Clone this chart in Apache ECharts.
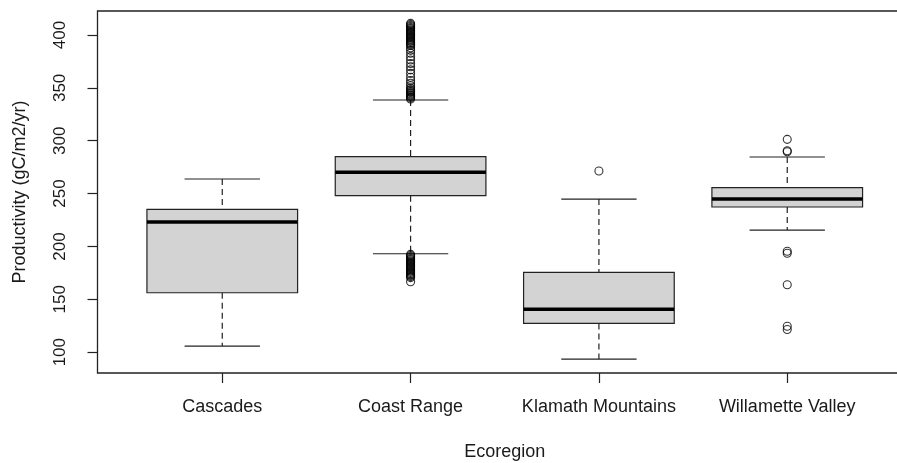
<!DOCTYPE html>
<html>
<head>
<meta charset="utf-8">
<script src="https://cdn.jsdelivr.net/npm/echarts@6/dist/echarts.min.js"></script>
<style>
html,body{margin:0;padding:0;background:#fff;}
#c{width:897px;height:463px;}
</style>
</head>
<body>
<div id="c"></div>
<script>
// ---- data ----
const categories = ['Cascades', 'Coast Range', 'Klamath Mountains', 'Willamette Valley'];
// [lower whisker, Q1, median, Q3, upper whisker]
const boxStats = [
  [105.8, 156.2, 223.1, 235.1, 263.8],
  [193.1, 248.0, 270.1, 284.9, 338.5],
  [93.5, 127.2, 140.5, 175.5, 244.8],
  [215.5, 237.3, 244.8, 255.6, 284.6]
];
const outliersCascades = [];
const outliersCoast = [
  339.5, 340.5, 341.5, 342.5, 343.5, 344.5, 345.5, 346.5, 347.5, 348.5, 350, 352, 354.3, 357, 360, 363.7, 367, 370, 373, 376.3, 379.5, 382.7, 385.5, 388, 390, 391, 392, 393, 394, 395, 396, 397, 398, 399, 400, 401, 402, 403, 404, 405, 406, 407, 408, 409, 410, 411,
  192.5, 191.5, 190.5, 189.5, 188.5, 187.5, 186.5, 185.5, 184.5, 183.5, 182.5, 181.5, 180.5, 179.5, 178.5, 177.5, 176.5, 175.5, 174.5, 173.5, 172.5, 171.5, 170.5, 166.6
];
const outliersKlamath = [271.3];
const outliersWillamette = [301.3, 290.5, 289.5, 195.5, 193.5, 163.8, 124.5, 121.5];
const yTicks = [100, 150, 200, 250, 300, 350, 400];
const yMin = 80.3, yMax = 422.7;

const outlierGroups = [outliersCascades, outliersCoast, outliersKlamath, outliersWillamette];
const outlierData = [];
outlierGroups.forEach((g, i) => g.forEach(v => outlierData.push([i, v])));
const boxData = boxStats.map((s, i) => [i].concat(s));

const chart = echarts.init(document.getElementById('c'), null, {renderer: 'canvas'});
const FONT = 'Liberation Sans, Arial, sans-serif';
const TXT = '#1a1a1a';

function renderBox(params, api) {
  const i = api.value(0);
  const lo = api.coord([i, api.value(1)]);
  const q1 = api.coord([i, api.value(2)]);
  const md = api.coord([i, api.value(3)]);
  const q3 = api.coord([i, api.value(4)]);
  const hi = api.coord([i, api.value(5)]);
  const band = api.size([1, 0])[0];
  const hb = band * 0.4, hc = band * 0.2;
  const x = lo[0];
  const lineStyle = {stroke: '#222', lineWidth: 1.2, fill: null};
  const dash = {stroke: '#222', lineWidth: 1.2, lineDash: [6, 4], fill: null};
  return {
    type: 'group',
    children: [
      {type: 'line', shape: {x1: x, y1: hi[1], x2: x, y2: q3[1]}, style: dash},
      {type: 'line', shape: {x1: x, y1: q1[1], x2: x, y2: lo[1]}, style: dash},
      {type: 'line', shape: {x1: x - hc, y1: hi[1], x2: x + hc, y2: hi[1]}, style: lineStyle},
      {type: 'line', shape: {x1: x - hc, y1: lo[1], x2: x + hc, y2: lo[1]}, style: lineStyle},
      {type: 'rect', shape: {x: x - hb, y: q3[1], width: hb * 2, height: q1[1] - q3[1]},
        style: {fill: '#d3d3d3', stroke: '#222', lineWidth: 1.2}},
      {type: 'line', shape: {x1: x - hb, y1: md[1], x2: x + hb, y2: md[1]},
        style: {stroke: '#000', lineWidth: 3.5}}
    ]
  };
}

chart.setOption({
  backgroundColor: '#fff',
  animation: false,
  grid: {left: 128.1, right: 15.6, top: 11, bottom: 90, containLabel: false, outerBoundsMode: 'none'},
  xAxis: {
    type: 'category',
    data: categories,
    boundaryGap: true,
    name: 'Ecoregion',
    nameLocation: 'middle',
    nameGap: 70,
    nameTextStyle: {fontFamily: FONT, fontSize: 18, color: TXT},
    axisLine: {show: false},
    axisTick: {show: true, alignWithLabel: true, interval: 0, length: 10, lineStyle: {color: '#222', width: 1.2}},
    axisLabel: {fontFamily: FONT, fontSize: 18, color: TXT, margin: 25, interval: 0},
    splitLine: {show: false}
  },
  yAxis: {
    type: 'value',
    min: yMin,
    max: yMax,
    offset: 30.6,
    name: 'Productivity (gC/m2/yr)',
    nameLocation: 'middle',
    nameRotate: 90,
    nameGap: 68,
    nameTextStyle: {fontFamily: FONT, fontSize: 18, color: TXT},
    axisLine: {show: false},
    axisTick: {show: true, length: 10, customValues: yTicks, lineStyle: {color: '#222', width: 1.2}},
    axisLabel: {fontFamily: FONT, fontSize: 17, color: TXT, rotate: 90, margin: 29, customValues: yTicks},
    splitLine: {show: false}
  },
  graphic: [{
    type: 'rect',
    shape: {x: 97.5, y: 11, width: 814, height: 362},
    style: {fill: null, stroke: '#222', lineWidth: 1.3},
    silent: true,
    z: 10
  }],
  series: [
    {
      type: 'custom',
      name: 'box',
      renderItem: renderBox,
      encode: {x: 0, y: [1, 2, 3, 4, 5]},
      data: boxData,
      z: 2
    },
    {
      type: 'scatter',
      name: 'outliers',
      data: outlierData,
      symbol: 'circle',
      symbolSize: 8,
      itemStyle: {color: 'rgba(255,255,255,0)', borderColor: '#000', borderWidth: 1.1},
      z: 3
    }
  ]
});
</script>
</body>
</html>
